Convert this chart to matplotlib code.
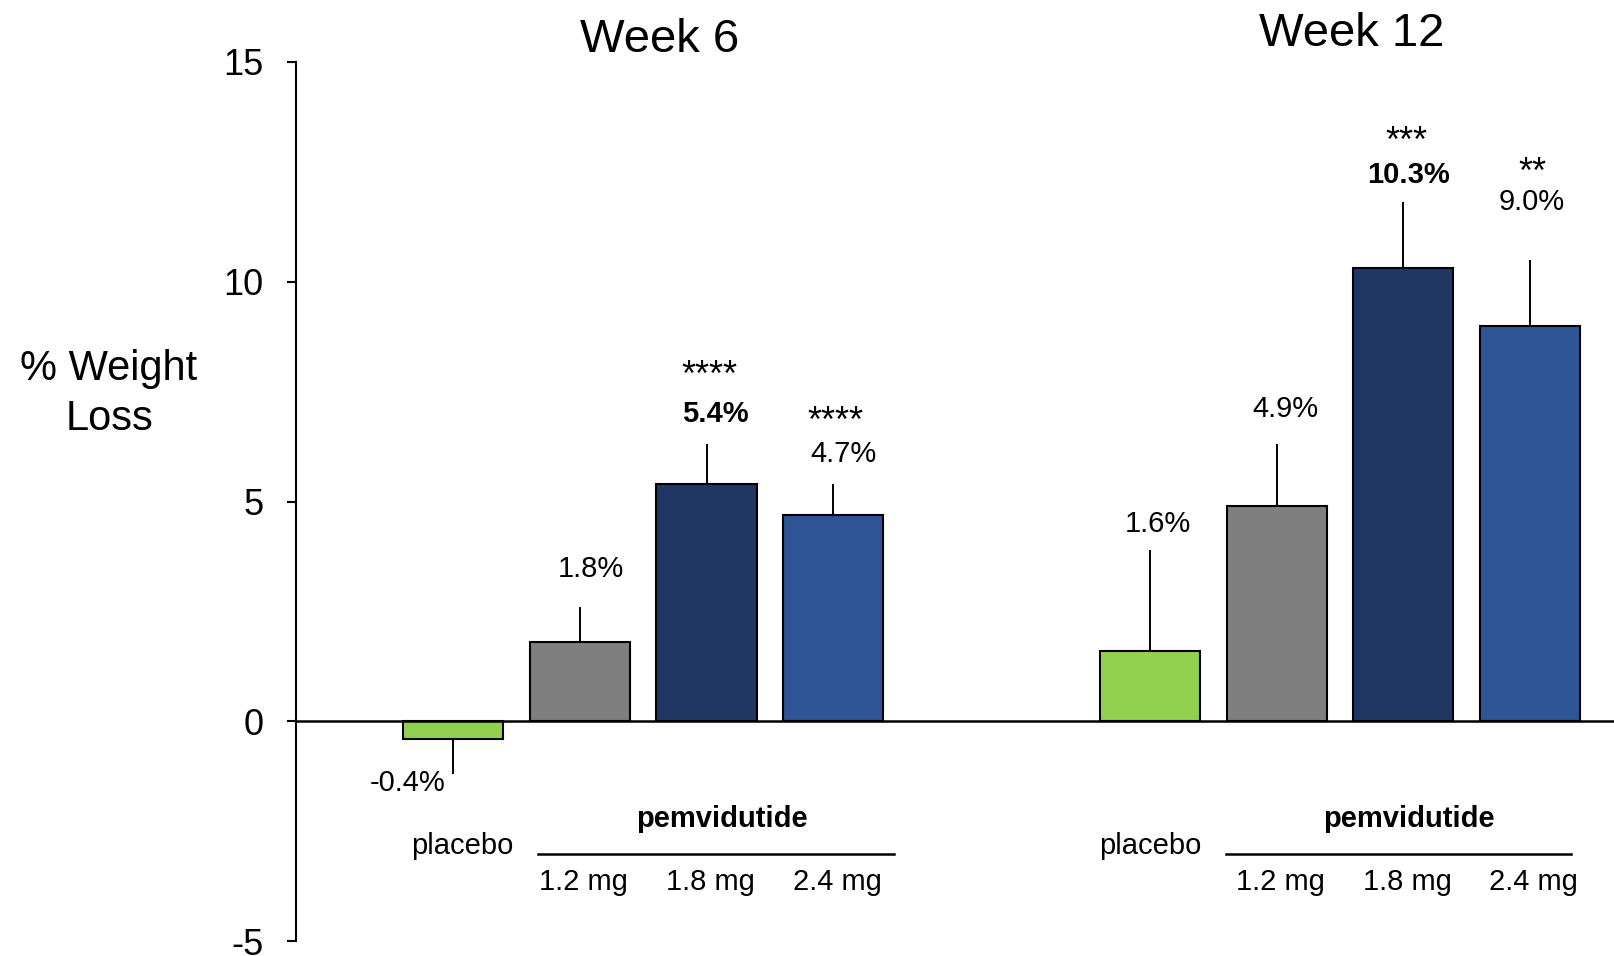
import matplotlib
matplotlib.use("Agg")
import matplotlib.pyplot as plt
import numpy as np

plt.rcParams['font.family'] = ['Liberation Sans', 'DejaVu Sans']

# ---- data ----
weeks = ["Week 6", "Week 12"]
arms = ["placebo", "1.2 mg", "1.8 mg", "2.4 mg"]
drug_name = "pemvidutide"
week6_loss = [-0.4, 1.8, 5.4, 4.7]
week6_err = [0.8, 0.8, 0.9, 0.7]
week6_sig = ["", "", "****", "****"]
week12_loss = [1.6, 4.9, 10.3, 9.0]
week12_err = [2.3, 1.4, 1.5, 1.5]
week12_sig = ["", "", "***", "**"]
highlight_arm = 2  # bold value label
y_ticks = [-5, 0, 5, 10, 15]
y_tick_labels = ["-5", "0", "5", "10", "15"]

# ---- style / layout ----
colors = ['#92D050', '#7F7F7F', '#213763', '#2F5597']
bar_width = 0.79
group_offsets = [0.0, 5.5]
label_gaps = [[-0.19, 0.86, 0.68, 0.68], [0.58, 0.80, 0.63, 1.31]]
label_dx = [[-0.06, 0.09, 0.07, 0.08], [0.06, 0.07, 0.04, 0.01]]
star_gaps = [[0, 0, 1.12, 0.98], [0, 0, 0.98, 0.91]]
title_pos = [(0.13, 15.5), (0.09, 15.64)]
placebo_dx = [0.07, 0.0]
drug_dx = [0.12, 0.04]
bracket_span = [(0.67, 3.48), (0.60, 3.32)]

fig = plt.figure(figsize=(16.15, 9.56), dpi=100)
ax = fig.add_axes([0.1833, 0.0153, 0.8167, 0.9201])

series = [(week6_loss, week6_err, week6_sig), (week12_loss, week12_err, week12_sig)]

for g, (loss, err, sig) in enumerate(series):
    x = np.arange(len(arms)) + group_offsets[g]
    ax.bar(x, loss, bar_width, color=colors, edgecolor='black',
           linewidth=1.5, zorder=2)
    lower = [e if v < 0 else 0 for v, e in zip(loss, err)]
    upper = [e if v >= 0 else 0 for v, e in zip(loss, err)]
    ax.errorbar(x, loss, yerr=[lower, upper], fmt='none', ecolor='black',
                elinewidth=1.4, capsize=0, zorder=1)

    for i, (xi, v, e) in enumerate(zip(x, loss, err)):
        weight = 'bold' if i == highlight_arm else 'normal'
        if v < 0:
            ly = v - e + label_gaps[g][i]
            ax.text(xi + label_dx[g][i], ly, f"{v:.1f}%", ha='right',
                    va='center', fontsize=21, fontweight=weight)
        else:
            ly = v + e + label_gaps[g][i]
            ax.text(xi + label_dx[g][i], ly, f"{v:.1f}%", ha='center',
                    va='center', fontsize=21, fontweight=weight)
        if sig[i]:
            ax.text(xi + 0.02, ly + star_gaps[g][i] - 0.25, sig[i],
                    ha='center', va='center', fontsize=26)

    # group title
    tdx, ty = title_pos[g]
    ax.text(x.mean() + tdx, ty, weeks[g], ha='center', va='center',
            fontsize=34, clip_on=False)

    # arm labels beneath the axis
    ax.text(x[0] + placebo_dx[g], -2.83, arms[0], ha='center', va='center',
            fontsize=21)
    for xi, name in zip(x[1:], arms[1:]):
        ax.text(xi + 0.03, -3.65, name, ha='center', va='center', fontsize=21)
    ax.text(x[1:].mean() + drug_dx[g], -2.22, drug_name, ha='center',
            va='center', fontsize=21, fontweight='bold')
    b0, b1 = bracket_span[g]
    ax.plot([x[0] + b0, x[0] + b1], [-3.02, -3.02],
            color='black', lw=1.8, clip_on=False)

ax.axhline(0, color='black', lw=1.8, zorder=3)

ax.set_xlim(-1.24, 9.17)
ax.set_ylim(-5, 15)
ax.set_yticks(y_ticks)
ax.set_yticklabels(y_tick_labels)
ax.set_xticks([])
ax.tick_params(axis='y', length=6.5, width=1.5, labelsize=26, pad=17)
for side in ['top', 'right', 'bottom']:
    ax.spines[side].set_visible(False)
ax.spines['left'].set_linewidth(1.5)

fig.text(0.0675, 0.588, "% Weight\nLoss", ha='center', va='center',
         multialignment='center', fontsize=30, linespacing=1.3)

fig.savefig("out.png", dpi=100)
